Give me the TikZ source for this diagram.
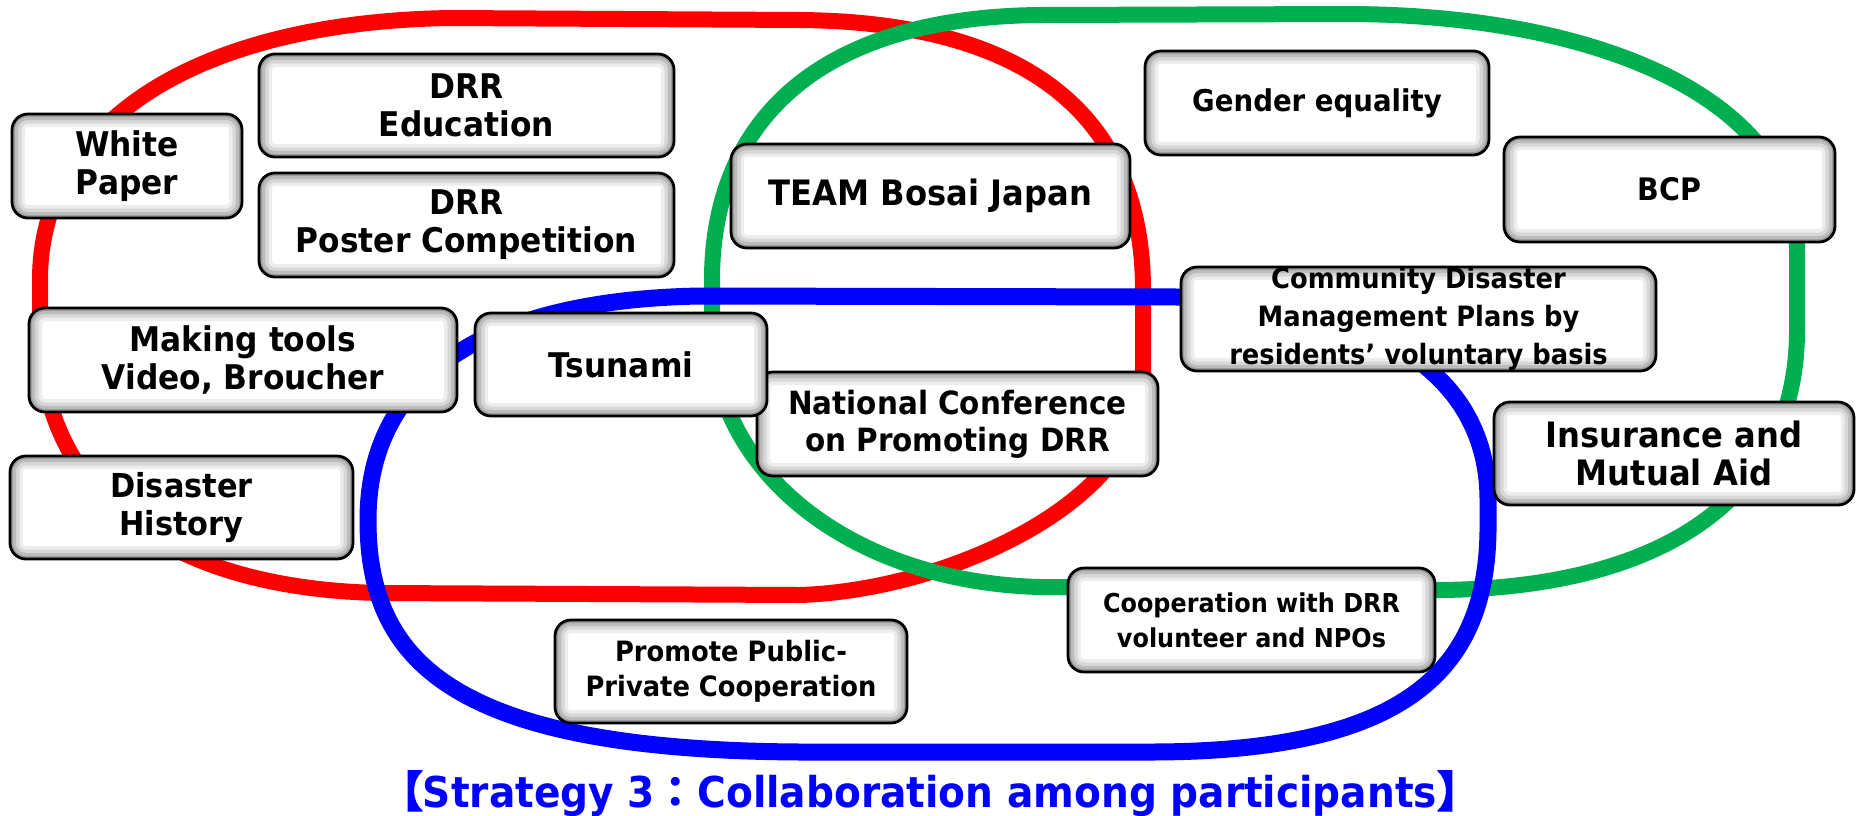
\documentclass[tikz,border=0pt]{standalone}
\usepackage{fontspec}
\setmainfont{DejaVu Sans}[FakeStretch=0.92]
\newfontfamily\cjk{Noto Sans CJK JP}[FakeBold=3]
\newfontfamily\cjklight{Noto Sans CJK JP}
\definecolor{grn}{RGB}{0,176,80}
\definecolor{rd}{RGB}{255,0,0}
\definecolor{bl}{RGB}{0,0,255}
\tikzset{
  tbox/.style={draw=black, line width=2.8pt, rounded corners=16pt, fill=white,
    inner sep=0pt, align=center,
    path picture={
      \foreach \w/\o in {26/0.07,19/0.09,12/0.12,6/0.16}{
        \draw[line width=\w pt, black, opacity=\o, rounded corners=16pt]
          (path picture bounding box.south west) rectangle (path picture bounding box.north east);}
    }},
  ring/.style={line width=16pt},
}
% name, x1, y1, x2, y2, size, skip, text
\newcommand\mybox[8]{%
  \node[tbox, minimum width={#4-#2}, minimum height={#5-#3},
        font=\fontsize{#6}{#7}\selectfont\bfseries]
    (#1) at ({(#2+#4)/2},{(#3+#5)/2}) {#8};}
\begin{document}
\begin{tikzpicture}[x=1pt,y=-1pt]
\useasboundingbox (0,0) rectangle (1856,815);
% red loop
\draw[ring, rd] (450,18) -- (800,20) .. controls (1020,22) and (1143,110) .. (1143,290)
  -- (1143,380) .. controls (1143,500) and (950,590) .. (800,595)
  -- (380,593) .. controls (150,588) and (40,480) .. (40,330)
  -- (40,280) .. controls (40,120) and (200,22) .. (450,18) -- cycle;
% green loop
\draw[ring, grn] (1040,15) -- (1350,14) .. controls (1600,15) and (1797,100) .. (1797,250)
  -- (1797,330) .. controls (1797,500) and (1660,588) .. (1440,590)
  -- (1040,587) .. controls (850,582) and (712,470) .. (712,330)
  -- (712,280) .. controls (712,120) and (820,17) .. (1040,15) -- cycle;
% blue loop
\draw[ring, bl, line width=17pt] (700,296) -- (1180,297) .. controls (1350,300) and (1488,360) .. (1488,500)
  -- (1488,520) .. controls (1490,660) and (1420,752) .. (1150,752)
  -- (800,752) .. controls (450,750) and (368,660) .. (368,520)
  .. controls (368,380) and (480,300) .. (700,296) -- cycle;
% boxes
\mybox{wp}{12}{114}{242}{218}{34}{38}{White\\Paper}
\mybox{edu}{259}{54}{674}{157}{34}{38}{DRR\\Education}
\mybox{post}{259}{173}{674}{277}{34}{38}{DRR\\Poster Competition}
\mybox{tools}{29}{308}{457}{412}{34}{38}{Making tools\\Video, Broucher}
\mybox{hist}{10}{456}{353}{559}{33}{38}{Disaster\\History}
\mybox{team}{731}{144}{1130}{248}{35}{38}{TEAM Bosai Japan}
\mybox{gen}{1145}{51}{1489}{155}{30}{36}{Gender equality}
\mybox{bcp}{1504}{137}{1835}{242}{31}{36}{BCP}
\mybox{comm}{1181}{267}{1656}{371}{28}{38}{Community Disaster\\Management Plans by\\residents’ voluntary basis}
\mybox{nat}{757}{372}{1158}{476}{32}{37}{National Conference\\on Promoting DRR}
\mybox{tsu}{475}{313}{767}{416}{34}{38}{Tsunami}
\mybox{ins}{1494}{402}{1854}{505}{35}{38}{Insurance and\\Mutual Aid}
\mybox{coop}{1068}{568}{1435}{672}{26}{35}{Cooperation with DRR\\volunteer and NPOs}
\mybox{prom}{555}{620}{907}{723}{28}{35}{Promote Public-\\Private Cooperation}
% title
\node[font=\fontsize{42.5}{46}\selectfont\bfseries, text=bl, inner sep=0pt, anchor=base] (title) at (930,807)
  {{\cjk 【}Strategy 3{\cjklight ：}Collaboration among participants{\cjk 】}};
\end{tikzpicture}
\end{document}
